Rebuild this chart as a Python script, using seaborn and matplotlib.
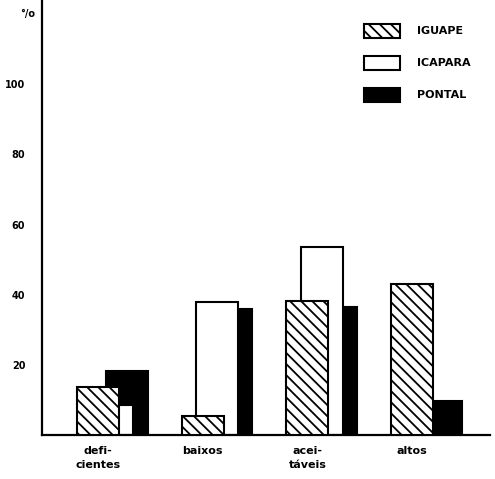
import numpy as np
import matplotlib
matplotlib.use("Agg")
import matplotlib.pyplot as plt
from matplotlib.patches import Patch
import seaborn as sns

# valores (%)
categorias = ["defi-\ncientes", "baixos", "acei-\ntáveis", "altos"]
iguape = [13.7, 5.4, 38.3, 43.1]
icapara = [8.6, 38.0, 53.7, 0.0]
pontal = [18.3, 36.0, 36.6, 9.7]
yticks = [20, 40, 60, 80, 100]

sns.set_style("white")
plt.rcParams["font.family"] = ["DejaVu Sans"]
plt.rcParams["hatch.linewidth"] = 1.3
plt.rcParams["text.color"] = "black"
plt.rcParams["xtick.color"] = "black"
plt.rcParams["ytick.color"] = "black"

fig = plt.figure(figsize=(4.95, 4.79), dpi=100)
ax = fig.add_axes([42 / 495, 44 / 479, 448 / 495, 435 / 479])

idx = np.arange(len(categorias))
desloc = 0.138
hatch = "\\\\\\"

# de trás para a frente: pontal, icapara, iguape
sns.barplot(x=idx + 2 * desloc, y=pontal, native_scale=True, width=0.4, color="black",
            saturation=1, edgecolor="black", linewidth=1.5, ax=ax, zorder=1)
sns.barplot(x=idx + desloc, y=icapara, native_scale=True, width=0.4, color="white",
            saturation=1, edgecolor="black", linewidth=1.5, ax=ax, zorder=2)
sns.barplot(x=idx, y=iguape, native_scale=True, width=0.4, color="white",
            saturation=1, edgecolor="black", linewidth=1.5, hatch=hatch, ax=ax, zorder=3)

ax.set_xlim(-0.53, 3.74)
ax.set_ylim(0, 124)
ax.set_xticks(idx)
ax.set_xticklabels(categorias, fontsize=8, fontweight="bold", linespacing=1.5)
ax.set_yticks(yticks)
ax.set_yticklabels([str(v) for v in yticks], fontsize=7, fontweight="bold")
ax.tick_params(axis="x", length=0, pad=8)
ax.tick_params(axis="y", direction="in", length=4, width=1.2, pad=12)
for s in ["top", "right"]:
    ax.spines[s].set_visible(False)
for s in ["left", "bottom"]:
    ax.spines[s].set_linewidth(1.6)
    ax.spines[s].set_color("black")
ax.set_xlabel("")
ax.set_ylabel("")

fig.text(20 / 495, 1 - 14 / 479, "°/o", fontsize=7, fontweight="bold", ha="left", va="center")

handles = [
    Patch(facecolor="white", edgecolor="black", hatch=hatch, linewidth=1.5, label="IGUAPE"),
    Patch(facecolor="white", edgecolor="black", linewidth=1.5, label="ICAPARA"),
    Patch(facecolor="black", edgecolor="black", linewidth=1.5, label="PONTAL"),
]
leg = ax.legend(handles=handles, loc="upper left", bbox_to_anchor=(358 / 495, 1 - 18 / 479),
                bbox_transform=fig.transFigure, frameon=False, borderpad=0,
                handlelength=3.3, handleheight=1.6, handletextpad=1.5, labelspacing=1.6,
                prop={"size": 8, "weight": "bold"})

fig.savefig("out.png", dpi=100)
